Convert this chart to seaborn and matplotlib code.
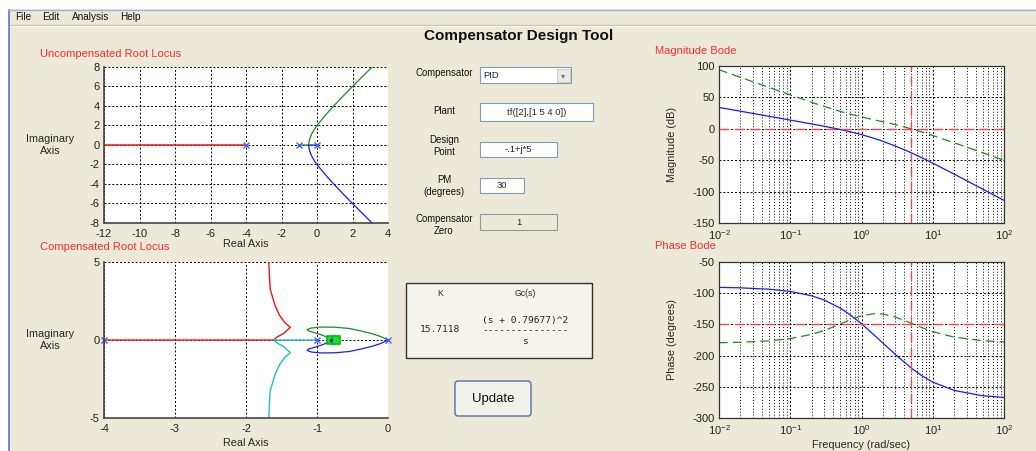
import matplotlib
matplotlib.use("Agg")
import matplotlib.pyplot as plt
from matplotlib.patches import Rectangle, FancyBboxPatch
import seaborn as sns

# ------------------------------------------------------------
# values
# ------------------------------------------------------------
# uncompensated root locus, plant 2/(s^3+5s^2+4s)
unc_poles = [-4.0, -1.0, 0.0]
unc_red_x = [-4.0, -12.0]
unc_red_y = [0.0, 0.0]
unc_green_x = [-1.0, -0.465, -0.45, -0.4, -0.3, -0.2, -0.1, 0.0, 0.5, 1.0, 1.5, 2.0, 2.5, 3.0, 3.1]
unc_green_y = [0.0, 0.0, 0.33, 0.69, 1.13, 1.46, 1.74, 2.0, 3.12, 4.12, 5.07, 6.0, 6.91, 7.81, 7.99]
unc_blue_x = [0.0, -0.465, -0.45, -0.4, -0.3, -0.2, -0.1, 0.0, 0.5, 1.0, 1.5, 2.0, 2.5, 3.0, 3.1]
unc_blue_y = [0.0, 0.0, -0.33, -0.69, -1.13, -1.46, -1.74, -2.0, -3.12, -4.12, -5.07, -6.0, -6.91, -7.81, -7.99]

# compensated root locus
comp_poles = [-4.0, -1.0, 0.0]
comp_zero = -0.79677
comp_red_x = [-4.0, -1.61, -1.57, -1.47, -1.376, -1.45, -1.53, -1.59, -1.66, -1.68]
comp_red_y = [0.0, 0.0, 0.17, 0.42, 0.81, 1.1, 1.6, 2.2, 3.27, 5.0]
comp_cyan_x = [-1.0, -1.61, -1.57, -1.47, -1.376, -1.45, -1.53, -1.59, -1.66, -1.68]
comp_cyan_y = [0.0, 0.0, -0.17, -0.42, -0.81, -1.1, -1.6, -2.2, -3.27, -5.0]
comp_green_x = [0.0, -0.1, -0.22, -0.4, -0.55, -0.75, -0.95, -1.08, -1.14, -1.12,
                -1.03, -0.92, -0.84, -0.797]
comp_green_y = [0.0, 0.22, 0.4, 0.6, 0.74, 0.82, 0.83, 0.77, 0.67, 0.58,
                0.46, 0.3, 0.14, 0.0]
comp_blue_x = [0.0, -0.1, -0.22, -0.4, -0.55, -0.75, -0.95, -1.08, -1.14, -1.12,
               -1.03, -0.92, -0.84, -0.797]
comp_blue_y = [0.0, -0.22, -0.4, -0.6, -0.74, -0.82, -0.83, -0.77, -0.67, -0.58,
               -0.46, -0.3, -0.14, 0.0]

# bode data (rad/sec, dB, degrees)
freq = [0.01, 0.02, 0.05, 0.1, 0.2, 0.3, 0.5, 0.7, 1, 1.5, 2, 3, 5, 7, 10, 20, 50, 100]
mag_unc = [34.0, 28.0, 20.0, 13.9, 7.7, 4.0, -1.0, -4.8, -9.3, -15.2, -20.0, -27.5,
           -38.2, -46.0, -54.7, -72.2, -95.9, -114.0]
mag_comp = [94.0, 81.9, 66.0, 54.0, 42.2, 35.6, 27.8, 23.3, 18.9, 14.4, 11.2, 6.6,
            -0.1, -5.1, -10.7, -22.3, -38.0, -50.1]
ph_unc = [-90.7, -91.4, -93.6, -97.1, -104.2, -111.0, -123.7, -134.9, -149.0, -166.9,
          -180.0, -198.4, -220.0, -232.1, -242.5, -255.8, -264.3, -267.1]
ph_comp = [-179.3, -178.6, -176.4, -172.8, -166.0, -159.7, -149.5, -142.3, -136.1, -132.8,
           -133.4, -138.2, -148.1, -155.1, -161.6, -170.4, -176.1, -178.1]
crossover = 5.0
phase_target = -150.0

# GUI texts
menu_items = ["File", "Edit", "Analysis", "Help"]
gain_text = "15.7118"
gc_num = "(s + 0.79677)^2"
gc_den = "s"

# ------------------------------------------------------------
sns.set_style("white")
plt.rcParams["font.family"] = ["Liberation Sans", "DejaVu Sans"]
plt.rcParams["axes.unicode_minus"] = False

W, H = 1036, 451
BEIGE = "#ECE9D8"
fig = plt.figure(figsize=(W / 100, H / 100), dpi=100, facecolor="white")

# background layer in pixel coordinates
bg = fig.add_axes([0, 0, 1, 1])
bg.set_xlim(0, W)
bg.set_ylim(H, 0)
bg.axis("off")
bg.add_patch(Rectangle((8, 9), W - 8, H - 9, facecolor=BEIGE, edgecolor="none"))
bg.plot([8, W], [9.5, 9.5], color="#A5ACDD", lw=1)
bg.add_patch(Rectangle((7.5, 9), 2.5, H - 9, facecolor="#7A86D6", edgecolor="none"))
bg.plot([10, W], [24.5, 24.5], color="#C9C5B4", lw=1)
bg.plot([10, W], [25.5, 25.5], color="#F8F6EE", lw=0.7)
for name, xx in zip(menu_items, [15, 42, 72, 120]):
    bg.text(xx, 16.5, name, fontsize=7.2, ha="left", va="center", color="#111111")


def px_axes(l, t, r, b):
    return fig.add_axes([l / W, 1 - b / H, (r - l) / W, (b - t) / H])


def tbox(x0, y0, x1, y1, text="", face="white", edge="#7F9DB9", ha="center"):
    bg.add_patch(Rectangle((x0, y0), x1 - x0, y1 - y0, facecolor=face, edgecolor=edge, lw=0.8))
    if ha == "center":
        bg.text((x0 + x1) / 2, (y0 + y1) / 2 + 0.5, text, fontsize=6.8, ha="center", va="center")
    else:
        bg.text(x0 + 3, (y0 + y1) / 2 + 0.5, text, fontsize=6.8, ha="left", va="center")


# titles
red = "#FF2B2B"
bg.text(519, 36, "Compensator Design Tool", fontsize=11, weight="bold", ha="center",
        va="center", color="#111111")
bg.text(40, 54, "Uncompensated Root Locus", fontsize=8, color=red, va="center")
bg.text(40, 247, "Compensated Root Locus", fontsize=8, color=red, va="center")
bg.text(655, 51, "Magnitude Bode", fontsize=8, color=red, va="center")
bg.text(655, 246, "Phase Bode", fontsize=8, color=red, va="center")

# middle panel widgets
for lab, yy in [("Compensator", 73), ("Plant", 111), ("Design\nPoint", 146),
                ("PM\n(degrees)", 186), ("Compensator\nZero", 225)]:
    bg.text(444, yy, lab, fontsize=6.9, ha="center", va="center", linespacing=1.35, color="#111111")
tbox(480, 67, 571, 83, "PID", ha="left")
bg.add_patch(Rectangle((557, 68.5), 13, 13, facecolor="#ECECE6", edgecolor="#C4C4C0", lw=0.6))
bg.text(563.5, 75.5, "\u25be", fontsize=6, ha="center", va="center", color="#777777",
        family="DejaVu Sans")
tbox(480, 103, 593, 121, "tf([2],[1 5 4 0])")
tbox(480, 142, 557, 157, "-.1+j*5")
tbox(480, 178, 524, 193, "30")
tbox(480, 214, 557, 230, "1", face=BEIGE, edge="#8F99AA")

# result box
bg.add_patch(Rectangle((406, 283), 186, 75, facecolor="#F4F3EC", edgecolor="#333333", lw=1))
bg.text(440, 293, "K", fontsize=6.2, ha="center", va="center")
bg.text(525, 293, "Gc(s)", fontsize=6.2, ha="center", va="center")
mono = "DejaVu Sans Mono"
bg.text(440, 329, gain_text, fontsize=6.8, ha="center", va="center", family=mono)
bg.text(525, 321, gc_num, fontsize=6.8, ha="center", va="center", family=mono)
bg.text(525, 331, "-" * len(gc_num), fontsize=6.8, ha="center", va="center", family=mono)
bg.text(525, 341, gc_den, fontsize=6.8, ha="center", va="center", family=mono)

# update button
bg.add_patch(FancyBboxPatch((455, 381), 76, 35, boxstyle="round,pad=0,rounding_size=3",
                            facecolor="#F2F2EC", edgecolor="#4F6FA8", lw=1))
bg.text(493, 399, "Update", fontsize=9.5, ha="center", va="center", color="#111111")

# ------------------------------------------------------------
GREEN = "#1E8C1E"
BLUE = "#1A1AFF"
CYAN = "#1FBFBF"
RED = "#FF1010"
grid_ls = (0, (2, 2))


def locus_style(ax):
    ax.set_facecolor("white")
    ax.set_axisbelow(True)
    ax.grid(True, color="black", ls=grid_ls, lw=0.7)
    for s in ("top", "right"):
        ax.spines[s].set_visible(False)
    for s in ("left", "bottom"):
        ax.spines[s].set_color("#444444")
        ax.spines[s].set_linewidth(1.2)
    ax.tick_params(direction="in", length=3, labelsize=8, colors="#222222")
    ax.tick_params(axis="x", pad=4)
    ax.tick_params(axis="y", pad=3)


# uncompensated root locus
ax1 = px_axes(104, 67, 388, 223)
sns.lineplot(x=unc_red_x, y=unc_red_y, sort=False, estimator=None, color=RED, lw=1.1, ax=ax1)
sns.lineplot(x=unc_green_x, y=unc_green_y, sort=False, estimator=None, color=GREEN, lw=0.9, ax=ax1)
sns.lineplot(x=unc_blue_x, y=unc_blue_y, sort=False, estimator=None, color=BLUE, lw=0.9, ax=ax1)
ax1.plot(unc_poles, [0] * len(unc_poles), ls="none", marker="x", ms=4, mew=1, color="#4060FF")
ax1.set_xlim(-12, 4)
ax1.set_ylim(-8, 8)
ax1.set_xticks(range(-12, 5, 2))
ax1.set_yticks(range(-8, 9, 2))
locus_style(ax1)
ax1.set_xlabel("Real Axis", fontsize=7.8)
ax1.xaxis.set_label_coords(0.5, -0.1)
ax1.set_ylabel("Imaginary\nAxis", fontsize=7.8, rotation=0, va="center", ha="center")
ax1.yaxis.set_label_coords(-0.19, 0.5)

# compensated root locus
ax2 = px_axes(104, 262, 388, 418)
sns.lineplot(x=comp_red_x, y=comp_red_y, sort=False, estimator=None, color=RED, lw=1, ax=ax2)
sns.lineplot(x=comp_cyan_x, y=comp_cyan_y, sort=False, estimator=None, color=CYAN, lw=1, ax=ax2)
sns.lineplot(x=comp_green_x, y=comp_green_y, sort=False, estimator=None, color=GREEN, lw=0.9, ax=ax2)
sns.lineplot(x=comp_blue_x, y=comp_blue_y, sort=False, estimator=None, color=BLUE, lw=0.9, ax=ax2)
ax2.plot(comp_poles, [0] * len(comp_poles), ls="none", marker="x", ms=4, mew=1, color="#4060FF",
         clip_on=False)
ax2.plot([comp_zero, comp_zero + 0.06], [0, 0], ls="none", marker="s", ms=5.5, mew=1.2,
         mfc="#22DD22", mec="#00C000")
ax2.plot([comp_zero], [0], ls="none", marker=".", ms=3, color="#2020FF")
ax2.set_xlim(-4, 0)
ax2.set_ylim(-5, 5)
ax2.set_xticks(range(-4, 1))
ax2.set_yticks([-5, 0, 5])
locus_style(ax2)
ax2.set_xlabel("Real Axis", fontsize=7.8)
ax2.xaxis.set_label_coords(0.5, -0.125)
ax2.set_ylabel("Imaginary\nAxis", fontsize=7.8, rotation=0, va="center", ha="center")
ax2.yaxis.set_label_coords(-0.19, 0.5)


def bode_style(ax):
    ax.set_facecolor("white")
    ax.set_xscale("log")
    ax.set_xlim(1e-2, 1e2)
    ax.set_axisbelow(True)
    ax.grid(True, which="major", color="black", ls=grid_ls, lw=0.7)
    ax.grid(True, which="minor", axis="x", color="black", ls=(0, (1, 2)), lw=0.7)
    for s in ax.spines.values():
        s.set_color("#333333")
        s.set_linewidth(0.9)
    ax.tick_params(which="both", direction="in", labelsize=8, colors="#222222")
    ax.tick_params(axis="x", which="both", pad=4)
    ax.tick_params(axis="y", which="both", pad=3)
    ax.tick_params(which="major", length=3)
    ax.tick_params(which="minor", length=2)


# magnitude bode
ax3 = px_axes(719, 66, 1004, 223)
sns.lineplot(x=freq, y=mag_unc, color=BLUE, lw=0.9, ax=ax3)
sns.lineplot(x=freq, y=mag_comp, color=GREEN, lw=0.9, dashes=(7, 4), ax=ax3)
ax3.axhline(0, color="#FF4444", lw=1, dashes=(7, 4))
ax3.axvline(crossover, color="#FF4444", lw=1, dashes=(7, 4))
bode_style(ax3)
ax3.set_ylim(-150, 100)
ax3.set_yticks(range(-150, 101, 50))
ax3.set_ylabel("Magnitude (dB)", fontsize=7.8)
ax3.yaxis.set_label_coords(-0.147, 0.5)

# phase bode
ax4 = px_axes(719, 262, 1004, 418)
sns.lineplot(x=freq, y=ph_unc, color=BLUE, lw=0.9, ax=ax4)
sns.lineplot(x=freq, y=ph_comp, color=GREEN, lw=0.9, dashes=(7, 4), ax=ax4)
ax4.axhline(phase_target, color="#FF4444", lw=1, dashes=(7, 4))
ax4.axvline(crossover, color="#FF4444", lw=1, dashes=(7, 4))
bode_style(ax4)
ax4.set_ylim(-300, -50)
ax4.set_yticks(range(-300, -49, 50))
ax4.set_ylabel("Phase (degrees)", fontsize=7.8)
ax4.yaxis.set_label_coords(-0.147, 0.5)
ax4.set_xlabel("Frequency (rad/sec)", fontsize=7.8)
ax4.xaxis.set_label_coords(0.5, -0.14)

fig.savefig("out.png", dpi=100)
